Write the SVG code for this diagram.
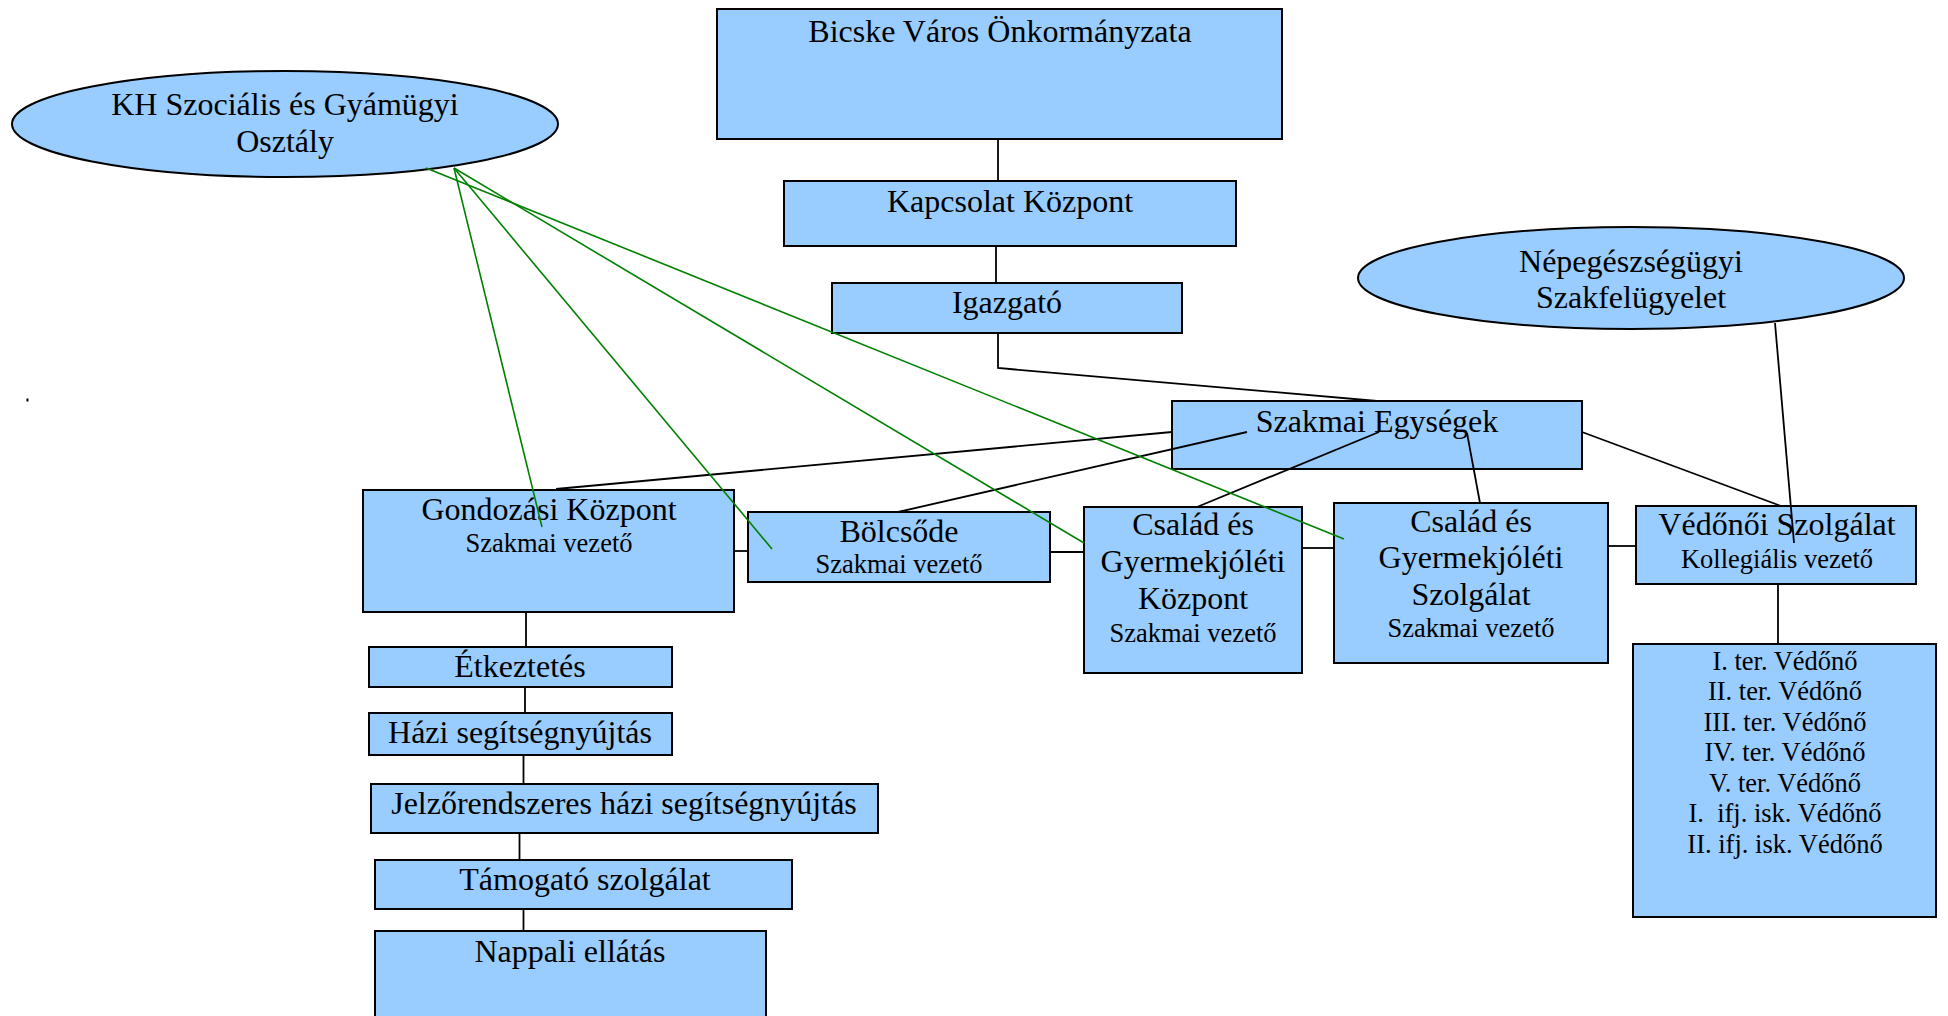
<svg xmlns="http://www.w3.org/2000/svg" width="1948" height="1016" viewBox="0 0 1948 1016">
<style>
.box{fill:#99CCFF;stroke:#000;stroke-width:2}
.t{font-family:"Liberation Serif","Times New Roman",serif;font-size:32px;fill:#000;text-anchor:middle}
.s{font-family:"Liberation Serif","Times New Roman",serif;font-size:26.5px;fill:#000;text-anchor:middle;white-space:pre}
.c{stroke:#000;stroke-width:1.8;fill:none}
.g{stroke:#008000;stroke-width:1.6;fill:none}
</style>
<rect width="1948" height="1016" fill="#fff"/>
<g id="nodes">
<g id="bicske"><rect class="box" x="717" y="9" width="565" height="130"/><text class="t" x="1000" y="42">Bicske Város Önkormányzata</text></g>
<g id="kapcsolat"><rect class="box" x="784" y="181" width="452" height="65"/><text class="t" x="1010" y="212">Kapcsolat Központ</text></g>
<g id="igazgato"><rect class="box" x="832" y="283" width="350" height="50"/><text class="t" x="1007" y="313">Igazgató</text></g>
<g id="kh"><ellipse class="box" cx="285" cy="124" rx="273" ry="53"/><text class="t" x="285" y="115">KH Szociális és Gyámügyi</text><text class="t" x="285" y="152">Osztály</text></g>
<g id="nepeg"><ellipse class="box" cx="1631" cy="278" rx="273" ry="51"/><text class="t" x="1631" y="272">Népegészségügyi</text><text class="t" x="1631" y="308">Szakfelügyelet</text></g>
<g id="szakmai"><rect class="box" x="1172" y="401" width="410" height="68"/><text class="t" x="1377" y="432">Szakmai Egységek</text></g>
<g id="gondozasi"><rect class="box" x="363" y="490" width="371" height="122"/><text class="t" x="549" y="520">Gondozási Központ</text><text class="s" x="549" y="552">Szakmai vezető</text></g>
<g id="bolcsode"><rect class="box" x="748" y="512" width="302" height="70"/><text class="t" x="899" y="542">Bölcsőde</text><text class="s" x="899" y="573">Szakmai vezető</text></g>
<g id="csgyk"><rect class="box" x="1084" y="507" width="218" height="166"/><text class="t" x="1193" y="535">Család és</text><text class="t" x="1193" y="572">Gyermekjóléti</text><text class="t" x="1193" y="609">Központ</text><text class="s" x="1193" y="642">Szakmai vezető</text></g>
<g id="csgysz"><rect class="box" x="1334" y="503" width="274" height="160"/><text class="t" x="1471" y="532">Család és</text><text class="t" x="1471" y="568">Gyermekjóléti</text><text class="t" x="1471" y="605">Szolgálat</text><text class="s" x="1471" y="637">Szakmai vezető</text></g>
<g id="vedonoi"><rect class="box" x="1636" y="506" width="280" height="78"/><text class="t" x="1777" y="535">Védőnői Szolgálat</text><text class="s" x="1777" y="568">Kollegiális vezető</text></g>
<g id="vedonok"><rect class="box" x="1633" y="644" width="303" height="273"/>
<text class="s" x="1785" y="669.5">I. ter. Védőnő</text>
<text class="s" x="1785" y="700">II. ter. Védőnő</text>
<text class="s" x="1785" y="730.5">III. ter. Védőnő</text>
<text class="s" x="1785" y="761">IV. ter. Védőnő</text>
<text class="s" x="1785" y="791.5">V. ter. Védőnő</text>
<text class="s" x="1785" y="822" xml:space="preserve">I.  ifj. isk. Védőnő</text>
<text class="s" x="1785" y="852.5">II. ifj. isk. Védőnő</text></g>
<g id="etkeztetes"><rect class="box" x="369" y="647" width="303" height="40"/><text class="t" x="520" y="677">Étkeztetés</text></g>
<g id="hazi"><rect class="box" x="369" y="713" width="303" height="42"/><text class="t" x="520" y="743">Házi segítségnyújtás</text></g>
<g id="jelzo"><rect class="box" x="371" y="784" width="507" height="49"/><text class="t" x="624" y="814">Jelzőrendszeres házi segítségnyújtás</text></g>
<g id="tamogato"><rect class="box" x="375" y="860" width="417" height="49"/><text class="t" x="585" y="890">Támogató szolgálat</text></g>
<g id="nappali"><rect class="box" x="375" y="931" width="391" height="100"/><text class="t" x="570" y="962">Nappali ellátás</text></g>
<rect id="dot" x="26.5" y="398.5" width="2" height="3" fill="#000"/>
</g>
<g id="connectors">
<line class="c" x1="998" y1="139" x2="998" y2="181"/>
<line class="c" x1="996" y1="246" x2="996" y2="283"/>
<polyline class="c" points="998,333 998,368 1377,401"/>
<line class="c" x1="1172" y1="432" x2="556" y2="489"/>
<line class="c" x1="1247" y1="432" x2="898" y2="512"/>
<line class="c" x1="1379" y1="432" x2="1197" y2="507"/>
<line class="c" x1="1467" y1="433" x2="1480" y2="503"/>
<line class="c" x1="1582" y1="432" x2="1781" y2="506"/>
<line class="c" x1="1775" y1="323" x2="1794" y2="543"/>
<line class="c" x1="734" y1="551" x2="748" y2="551"/>
<line class="c" x1="1050" y1="552" x2="1084" y2="552"/>
<line class="c" x1="1302" y1="548" x2="1334" y2="548"/>
<line class="c" x1="1608" y1="546" x2="1636" y2="546"/>
<line class="c" x1="1778" y1="584" x2="1778" y2="644"/>
<line class="c" x1="526" y1="612" x2="526" y2="647"/>
<line class="c" x1="525" y1="687" x2="525" y2="713"/>
<line class="c" x1="523.5" y1="755" x2="523.5" y2="784"/>
<line class="c" x1="519.5" y1="833" x2="519.5" y2="860"/>
<line class="c" x1="523.5" y1="909" x2="523.5" y2="931"/>
<line class="g" x1="454" y1="168" x2="542" y2="527"/>
<line class="g" x1="454" y1="168" x2="772" y2="549"/>
<line class="g" x1="454" y1="168" x2="1084" y2="543"/>
<line class="g" x1="426" y1="168" x2="1344" y2="539"/>
</g>
</svg>
